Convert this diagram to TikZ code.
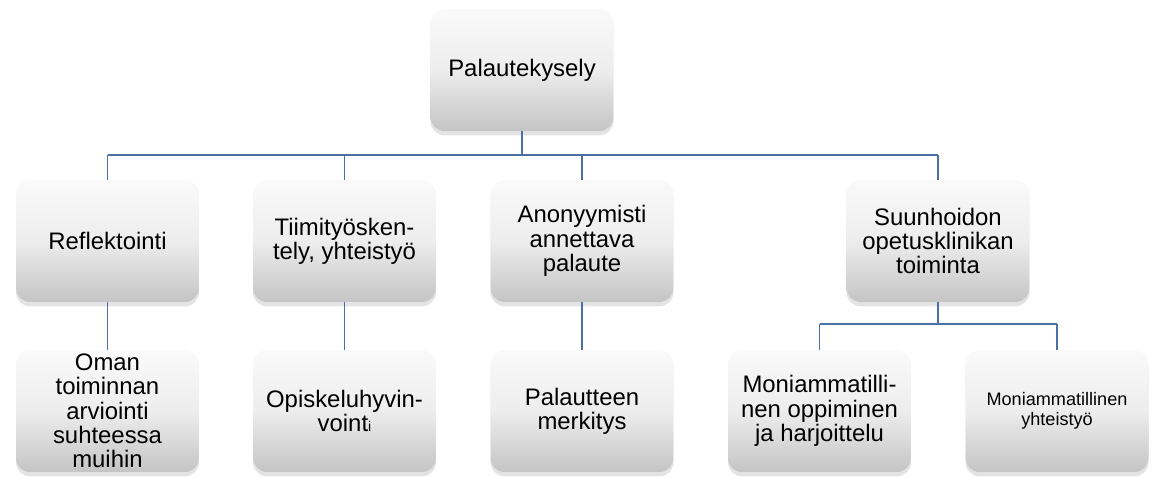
\documentclass[tikz,border=0pt]{standalone}
\usepackage{fontspec}
\setmainfont{Liberation Sans}
\usetikzlibrary{shadows}
\definecolor{linkblue}{RGB}{74,112,165}
\tikzset{
	box/.style={rounded corners=8pt, minimum width=3.66cm, minimum height=2.44cm,
		align=center, inner sep=0pt, top color=black!2, bottom color=black!23,
		middle color=black!7, draw=none,
		drop shadow={shadow xshift=0pt, shadow yshift=-2.5pt, opacity=0.22},
		font=\fontsize{13.6}{13.8}\selectfont},
	link/.style={draw=linkblue, line width=1.1pt},
}

\begin{document}
\begin{tikzpicture}[x=0.02cm, y=-0.02cm]
		\useasboundingbox (0,0) rectangle (1152,477);

		% ylin taso
		\node[box] (palaute) at (522, 70) {Palautekysely};

		% keskimmainen taso
		\node[box] (refl) at (107.5, 241) {Reflektointi};
		\node[box] (tiimi) at (344.5, 241) {Tiimityösken-\\tely, yhteistyö};
		\node[box] (anon) at (582, 241) {Anonyymisti\\annettava\\palaute};
		\node[box] (suun) at (938, 241) {Suunhoidon\\opetusklinikan\\toiminta};

		% alin taso
		\node[box] (oma) at (107.5, 411) {Oman\\toiminnan\\arviointi\\suhteessa\\muihin};
		\node[box] (opisk) at (344.5, 411) {Opiskeluhyvin-\\voint{\fontsize{8}{8}\selectfont i}};
		\node[box] (merk) at (582, 411) {Palautteen\\merkitys};
		\node[box] (moni) at (819.5, 411) {Moniammatilli-\\nen oppiminen\\ja harjoittelu};
		\node[box, font=\fontsize{10.3}{11.4}\selectfont] (yht) at (1057, 411) {Moniammatillinen\\yhteistyö};

		% yhteydet
		\coordinate (bus) at (522, 155);
		\coordinate (bus2) at (938, 324);

		\draw[link] (palaute.south) -- (palaute.south |- bus);
		\draw[link] (refl.north |- bus) -- (suun.north |- bus);
		\draw[link] (refl.north |- bus) -- (refl.north);
		\draw[link] (tiimi.north |- bus) -- (tiimi.north);
		\draw[link] (anon.north |- bus) -- (anon.north);
		\draw[link] (suun.north |- bus) -- (suun.north);

		\draw[link] (refl.south) -- (oma.north);
		\draw[link] (tiimi.south) -- (opisk.north);
		\draw[link] (anon.south) -- (merk.north);

		\draw[link] (suun.south) -- (suun.south |- bus2);
		\draw[link] (moni.north |- bus2) -- (yht.north |- bus2);
		\draw[link] (moni.north |- bus2) -- (moni.north);
		\draw[link] (yht.north |- bus2) -- (yht.north);
	\end{tikzpicture}
\end{document}
